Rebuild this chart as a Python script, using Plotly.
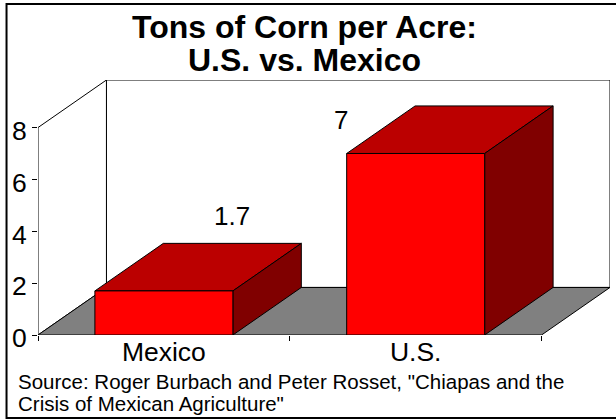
import plotly.graph_objects as go

categories = ["Mexico", "U.S."]
values = [1.7, 7]
value_labels = ["1.7", "7"]
label_x = [0.772, 1.204]
label_y = [4.59, 8.3]
y_ticks = [0, 2, 4, 6, 8]
x_boundaries = [0, 1, 2]
title_lines = ["Tons of Corn per Acre:", "U.S. vs. Mexico"]
source_lines = ['Source: Roger Burbach and Peter Rosset, "Chiapas and the', 'Crisis of Mexican Agriculture"']

W, H = 616, 419
L, T, B = 37.5, 80, 335
PX_PER_CAT = 252.0
PX_PER_UNIT = 25.9
DX = 68.5 / PX_PER_CAT
DY = 47.5 / PX_PER_UNIT
BAR_W = 0.548
YMAX = y_ticks[-1]
XMAX = x_boundaries[-1]
R = L + (XMAX + DX) * PX_PER_CAT


def poly(xs, ys, fill, line="black", width=1):
    return go.Scatter(x=xs + xs[:1], y=ys + ys[:1], mode="lines", fill="toself",
                      fillcolor=fill, line=dict(color=line, width=width),
                      hoverinfo="skip", showlegend=False)


fig = go.Figure()
# back wall, side wall, floor
fig.add_trace(poly([DX, XMAX + DX, XMAX + DX, DX], [DY, DY, YMAX + DY, YMAX + DY], "white"))
fig.add_trace(poly([0, DX, DX, 0], [0, DY, YMAX + DY, YMAX], "white"))
fig.add_trace(poly([0, XMAX, XMAX + DX, DX], [0, 0, DY, DY], "#808080"))

for i, v in enumerate(values):
    x0 = i + 0.5 - BAR_W / 2
    x1 = i + 0.5 + BAR_W / 2
    fig.add_trace(poly([x0, x1, x1 + DX, x0 + DX], [v, v, v + DY, v + DY], "#bb0000"))
    fig.add_trace(poly([x1, x1 + DX, x1 + DX, x1], [0, DY, v + DY, v], "#800000"))
    fig.add_trace(poly([x0, x1, x1, x0], [0, 0, v, v], "#ff0000"))

for t, x, y in zip(value_labels, label_x, label_y):
    fig.add_annotation(x=x, y=y, text=t, showarrow=False, yanchor="middle",
                       font=dict(family="Liberation Sans", size=26, color="black"))

for t, py in zip(title_lines, [27, 60]):
    fig.add_annotation(xref="paper", yref="paper", x=(304 - L) / (R - L), y=(B - py) / (B - T),
                       text="<b>%s</b>" % t, showarrow=False, xanchor="center", yanchor="middle",
                       font=dict(family="Liberation Sans", size=32, color="black"))
for t, py in zip(source_lines, [381, 403]):
    fig.add_annotation(xref="paper", yref="paper", x=(18 - L) / (R - L), y=(B - py) / (B - T),
                       xanchor="left", yanchor="middle", xshift=-3, text=t, showarrow=False,
                       font=dict(family="Liberation Sans", size=20.5, color="black"))

# outer frame (its right side runs off the picture)
fig.add_shape(type="rect", xref="paper", yref="paper",
              x0=(6 - L) / (R - L), x1=(625 - L) / (R - L),
              y0=(B - 418) / (B - T), y1=(B - 4) / (B - T),
              line=dict(color="black", width=2), layer="below")

fig.update_layout(
    width=W, height=H, autosize=False,
    margin=dict(l=L, r=W - R, t=T, b=H - B, pad=0),
    paper_bgcolor="white", plot_bgcolor="white", showlegend=False,
    xaxis=dict(range=[0, XMAX + DX], tickvals=[0.5, 1.5], ticktext=categories, ticks="",
               showgrid=False, zeroline=False, showline=False, ticklabelstandoff=-2,
               tickfont=dict(family="Liberation Sans", size=26.5, color="black"),
               minor=dict(tickvals=x_boundaries, ticks="outside", ticklen=5, tickcolor="black", tickwidth=1, showgrid=False)),
    yaxis=dict(range=[0, YMAX + DY], tickvals=y_ticks, ticks="outside", ticklen=5, tickcolor="black",
               showgrid=False, zeroline=False, showline=False, ticklabelshift=3,
               tickfont=dict(family="Liberation Sans", size=26.5, color="black")),
)
fig.write_html("out.html", config=dict(displayModeBar=False),
               post_script="document.body.style.margin='0';document.body.style.overflow='hidden';")
